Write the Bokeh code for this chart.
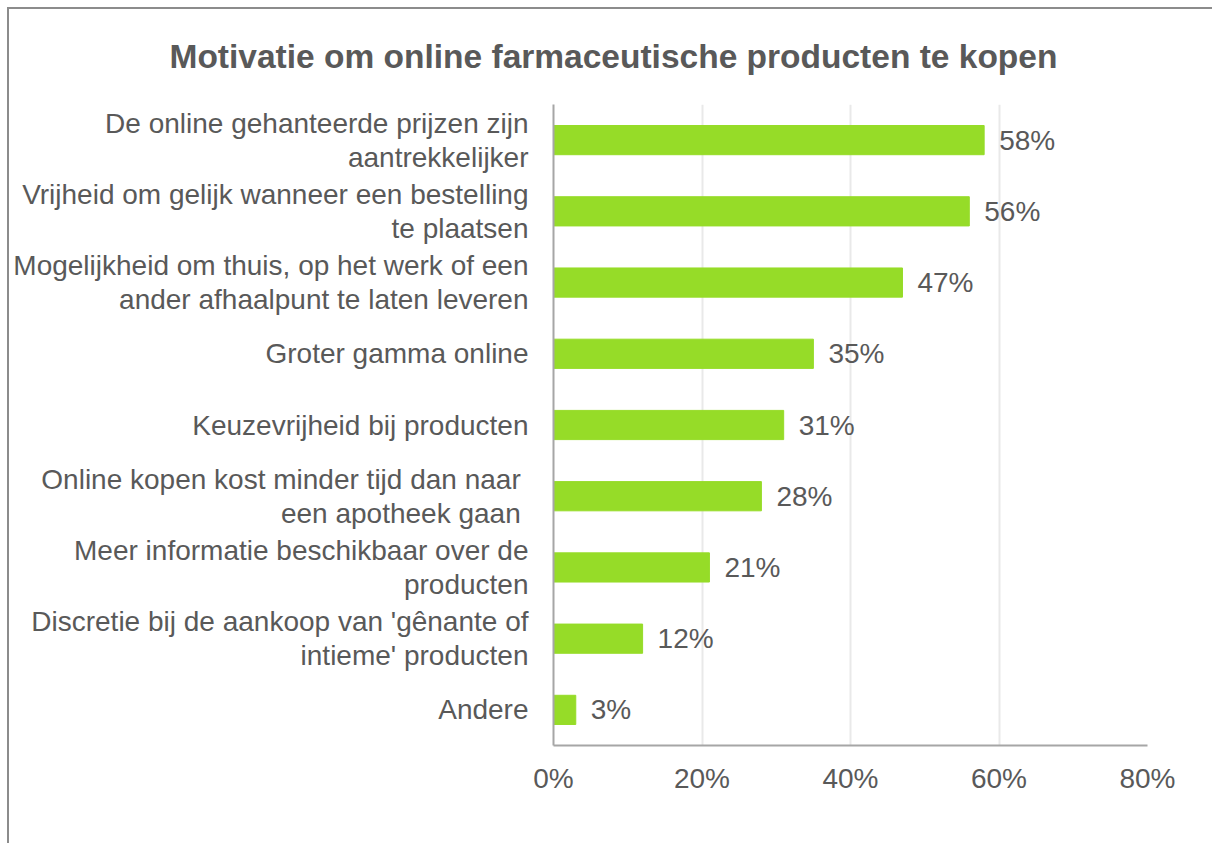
from bokeh.plotting import figure
from bokeh.models import ColumnDataSource, FactorRange, FixedTicker, CustomJSTickFormatter
from bokeh.embed import file_html
from bokeh.resources import INLINE
from bokeh.core.properties import value

categories = [
    "De online gehanteerde prijzen zijn\naantrekkelijker",
    "Vrijheid om gelijk wanneer een bestelling\nte plaatsen",
    "Mogelijkheid om thuis, op het werk of een\nander afhaalpunt te laten leveren",
    "Groter gamma online",
    "Keuzevrijheid bij producten",
    "Online kopen kost minder tijd dan naar \neen apotheek gaan ",
    "Meer informatie beschikbaar over de\nproducten",
    "Discretie bij de aankoop van 'gênante of\nintieme' producten",
    "Andere",
]
values = [58, 56, 47, 35, 31, 28, 21, 12, 3]
labels = [f"{v}%" for v in values]
ticks = [0, 20, 40, 60, 80]

TXT = "#595959"
FONT = "Liberation Sans"

src = ColumnDataSource(dict(cat=categories, val=values, lab=labels))

p = figure(
    width=1205, height=836,
    y_range=FactorRange(factors=list(reversed(categories))),
    x_range=(0, 80),
    output_backend="svg", toolbar_location=None,
    min_border_left=544, min_border_right=67, min_border_top=95, min_border_bottom=100,
    title="Motivatie om online farmaceutische producten te kopen",
    margin=(7, 0, 0, 7),
    styles={"border-left": "2px solid #8c8c8c", "border-top": "2px solid #8c8c8c"},
)
p.outline_line_color = None
p.title.text_font = FONT
p.title.text_font_size = "33.5px"
p.title.text_font_style = "bold"
p.title.text_color = TXT
p.title.align = "left"
p.title.offset = -384
p.title.vertical_align = "top"
p.title.text_line_height = 1.0
p.title.standoff = 56

p.hbar(y="cat", right="val", height=0.41, left=0, source=src, color="#96DC28")
p.text(x="val", y="cat", text="lab", source=src, x_offset=15,
       text_baseline="middle", text_align="left", text_color=TXT,
       text_font=value(FONT), text_font_size="28px")

p.xaxis.ticker = FixedTicker(ticks=ticks)
p.xaxis.formatter = CustomJSTickFormatter(code="return tick + '%'")
for ax in (p.xaxis[0], p.yaxis[0]):
    ax.axis_line_color = "#a6a6a6"
    ax.axis_line_width = 2
    ax.major_tick_line_color = None
    ax.minor_tick_line_color = None
    ax.major_label_text_font = FONT
    ax.major_label_text_font_size = "28px"
    ax.major_label_text_color = TXT
p.yaxis.major_label_text_line_height = 1.1
p.xaxis.major_label_standoff = 11
p.yaxis.major_label_standoff = 19

p.xgrid.grid_line_color = "#e9e9e9"
p.xgrid.grid_line_width = 2
p.ygrid.grid_line_color = None

open("out.html", "w").write(file_html(p, INLINE))
